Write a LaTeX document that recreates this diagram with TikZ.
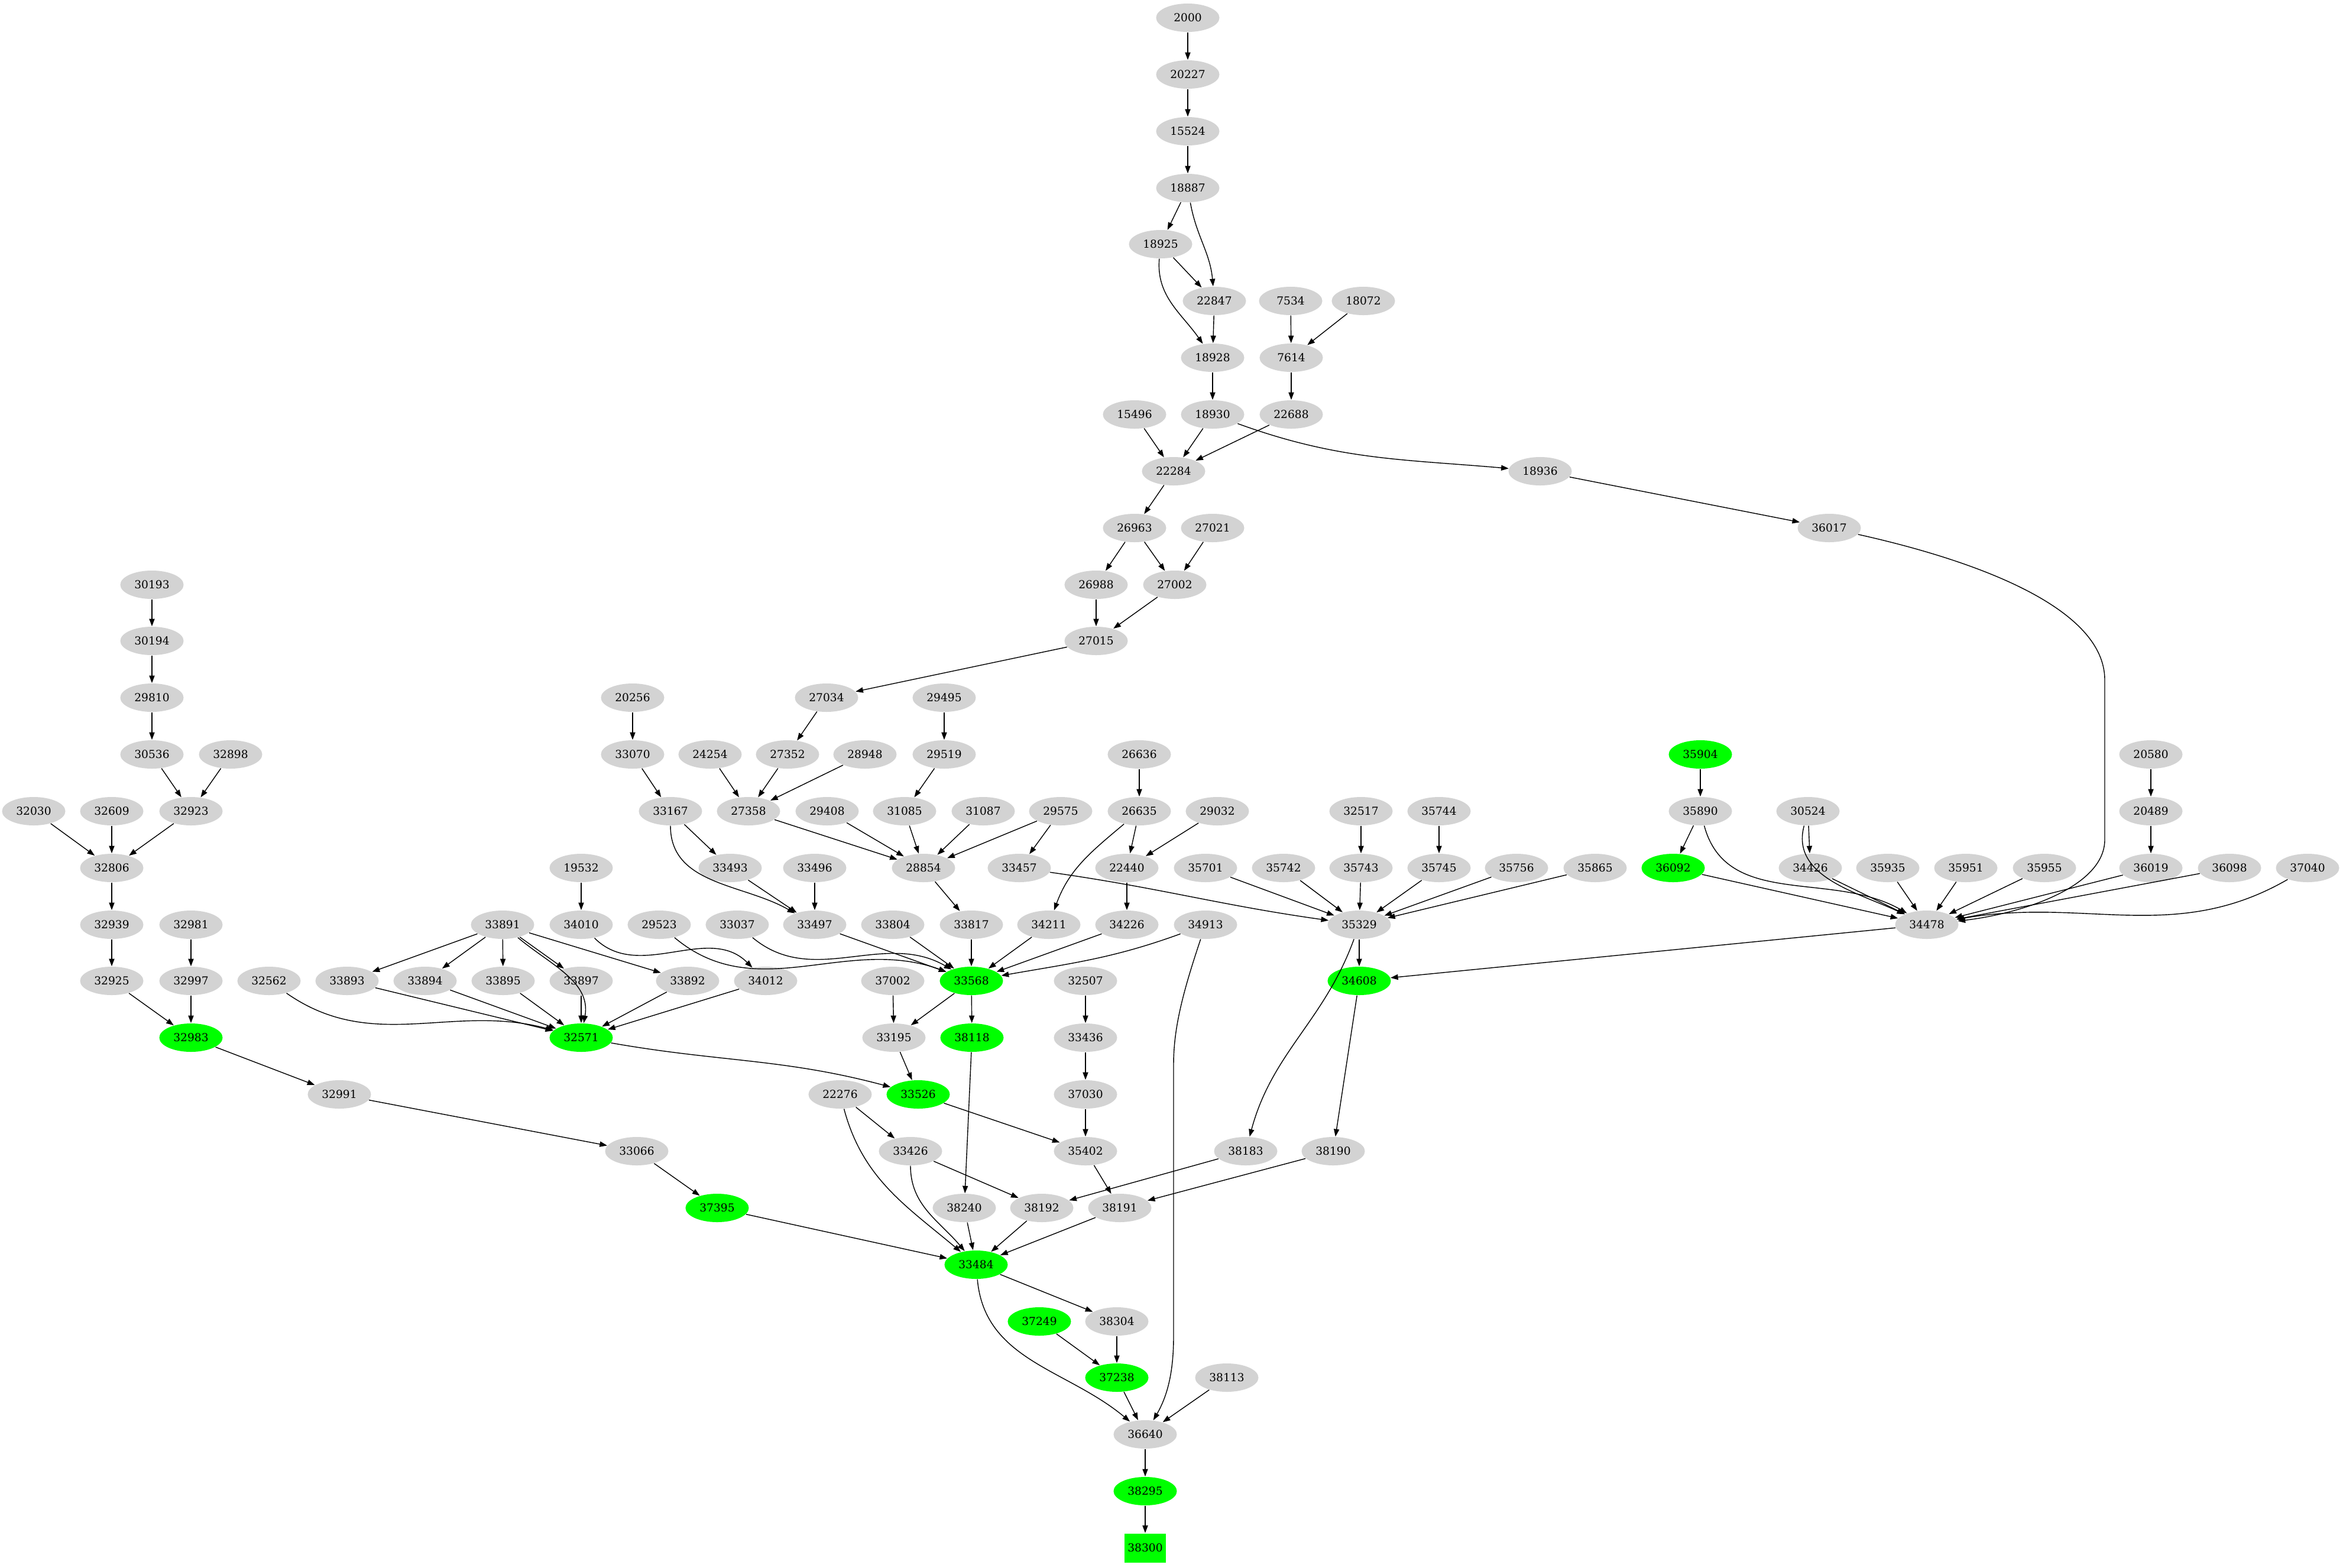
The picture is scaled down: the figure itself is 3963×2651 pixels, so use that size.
\documentclass[tikz,border=0pt]{standalone}
\usepackage{fontspec}
\setmainfont{DejaVu Serif}
\usetikzlibrary{shapes.geometric,arrows.meta}
\definecolor{ng}{HTML}{D3D3D3}
\definecolor{gg}{HTML}{00FF00}
\begin{document}
\begin{tikzpicture}[x=0.01cm,y=-0.01cm,
  g/.style={ellipse,fill=ng,minimum width=1.07cm,minimum height=0.48cm,inner sep=0pt,font=\fontsize{5.3}{6}\selectfont},
  gr/.style={g,fill=gg},
  bx/.style={rectangle,fill=gg,minimum width=0.7cm,minimum height=0.49cm,inner sep=0pt,font=\fontsize{5.3}{6}\selectfont},
  e/.style={-{Triangle[length=3.6pt,width=2.6pt]},line width=0.4pt}]
\useasboundingbox (0,0) rectangle (3963,2651);
% row 0-13
\node[g] (n2000) at (2009,30) {2000};
\node[g] (n20227) at (2009,126) {20227};
\node[g] (n15524) at (2009,222) {15524};
\node[g] (n18887) at (2009,318) {18887};
\node[g] (n18925) at (1963,413) {18925};
\node[g] (n22847) at (2054,509) {22847};
\node[g] (n7534) at (2183,509) {7534};
\node[g] (n18072) at (2306,509) {18072};
\node[g] (n18928) at (2051,605) {18928};
\node[g] (n7614) at (2184,605) {7614};
\node[g] (n15496) at (1919,701) {15496};
\node[g] (n18930) at (2051,701) {18930};
\node[g] (n22688) at (2184,701) {22688};
\node[g] (n22284) at (1985,797) {22284};
\node[g] (n18936) at (2605,797) {18936};
\node[g] (n26963) at (1919,893) {26963};
\node[g] (n27021) at (2051,893) {27021};
\node[g] (n36017) at (3094,893) {36017};
\node[g] (n30193) at (257,989) {30193};
\node[g] (n26988) at (1854,989) {26988};
\node[g] (n27002) at (1987,989) {27002};
\node[g] (n30194) at (257,1084) {30194};
\node[g] (n27015) at (1854,1084) {27015};
\node[g] (n29810) at (257,1180) {29810};
\node[g] (n20256) at (1070,1180) {20256};
\node[g] (n27034) at (1398,1180) {27034};
\node[g] (n29495) at (1597,1180) {29495};
\node[g] (n30536) at (257,1276) {30536};
\node[g] (n32898) at (390,1276) {32898};
\node[g] (n33070) at (1070,1276) {33070};
\node[g] (n24254) at (1201,1276) {24254};
\node[g] (n27352) at (1332,1276) {27352};
\node[g] (n28948) at (1463,1276) {28948};
\node[g] (n29519) at (1597,1276) {29519};
\node[g] (n26636) at (1927,1276) {26636};
\node[gr] (n35904) at (2876,1276) {35904};
\node[g] (n20580) at (3638,1276) {20580};
% row 14
\node[g] (n32030) at (57,1372) {32030};
\node[g] (n32609) at (189,1372) {32609};
\node[g] (n32923) at (323,1372) {32923};
\node[g] (n33167) at (1134,1372) {33167};
\node[g] (n27358) at (1266,1372) {27358};
\node[g] (n29408) at (1399,1372) {29408};
\node[g] (n31085) at (1530,1372) {31085};
\node[g] (n31087) at (1663,1372) {31087};
\node[g] (n29575) at (1794,1372) {29575};
\node[g] (n26635) at (1927,1372) {26635};
\node[g] (n29032) at (2059,1372) {29032};
\node[g] (n32517) at (2302,1372) {32517};
\node[g] (n35744) at (2434,1372) {35744};
\node[g] (n35890) at (2876,1372) {35890};
\node[g] (n30524) at (3058,1372) {30524};
\node[g] (n20489) at (3638,1372) {20489};
% row 15
\node[g] (n32806) at (189,1468) {32806};
\node[g] (n19532) at (983,1468) {19532};
\node[g] (n33493) at (1235,1468) {33493};
\node[g] (n33496) at (1378,1468) {33496};
\node[g] (n28854) at (1562,1468) {28854};
\node[g] (n33457) at (1724,1468) {33457};
\node[g] (n22440) at (1906,1468) {22440};
\node[g] (n35701) at (2039,1468) {35701};
\node[g] (n35742) at (2171,1468) {35742};
\node[g] (n35743) at (2302,1468) {35743};
\node[g] (n35745) at (2434,1468) {35745};
\node[g] (n35756) at (2565,1468) {35756};
\node[g] (n35865) at (2698,1468) {35865};
\node[gr] (n36092) at (2830,1468) {36092};
\node[g] (n34426) at (3062,1468) {34426};
\node[g] (n35935) at (3193,1468) {35935};
\node[g] (n35951) at (3325,1468) {35951};
\node[g] (n35955) at (3458,1468) {35955};
\node[g] (n36019) at (3638,1468) {36019};
\node[g] (n36098) at (3771,1468) {36098};
\node[g] (n37040) at (3903,1468) {37040};
% row 16
\node[g] (n32939) at (189,1564) {32939};
\node[g] (n32981) at (323,1564) {32981};
\node[g] (n33891) at (850,1564) {33891};
\node[g] (n34010) at (983,1564) {34010};
\node[g] (n29523) at (1115,1564) {29523};
\node[g] (n33037) at (1247,1564) {33037};
\node[g] (n33497) at (1378,1564) {33497};
\node[g] (n33804) at (1510,1564) {33804};
\node[g] (n33817) at (1643,1564) {33817};
\node[g] (n34211) at (1774,1564) {34211};
\node[g] (n34226) at (1906,1564) {34226};
\node[g] (n34913) at (2039,1564) {34913};
\node[g] (n35329) at (2299,1564) {35329};
\node[g] (n34478) at (3259,1564) {34478};
% row 17
\node[g] (n32925) at (189,1659) {32925};
\node[g] (n32997) at (323,1659) {32997};
\node[g] (n32562) at (455,1659) {32562};
\node[g] (n33893) at (587,1659) {33893};
\node[g] (n33894) at (719,1659) {33894};
\node[g] (n33895) at (851,1659) {33895};
\node[g] (n33897) at (983,1659) {33897};
\node[g] (n33892) at (1163,1659) {33892};
\node[g] (n34012) at (1295,1659) {34012};
\node[g] (n37002) at (1510,1659) {37002};
\node[gr] (n33568) at (1643,1659) {33568};
\node[g] (n32507) at (1836,1659) {32507};
\node[gr] (n34608) at (2299,1659) {34608};
% row 18
\node[gr] (n32983) at (323,1755) {32983};
\node[gr] (n32571) at (983,1755) {32571};
\node[g] (n33195) at (1512,1755) {33195};
\node[gr] (n38118) at (1644,1755) {38118};
\node[g] (n33436) at (1836,1755) {33436};
% row 19
\node[g] (n32991) at (574,1851) {32991};
\node[g] (n22276) at (1421,1851) {22276};
\node[gr] (n33526) at (1553,1851) {33526};
\node[g] (n37030) at (1836,1851) {37030};
% row 20
\node[g] (n33066) at (1077,1947) {33066};
\node[g] (n33426) at (1540,1947) {33426};
\node[g] (n35402) at (1836,1947) {35402};
\node[g] (n38183) at (2107,1947) {38183};
\node[g] (n38190) at (2255,1947) {38190};
% row 21
\node[gr] (n37395) at (1213,2043) {37395};
\node[g] (n38240) at (1631,2043) {38240};
\node[g] (n38192) at (1762,2043) {38192};
\node[g] (n38191) at (1894,2043) {38191};
% rows 22-27
\node[gr] (n33484) at (1651,2139) {33484};
\node[gr] (n37249) at (1758,2235) {37249};
\node[g] (n38304) at (1889,2235) {38304};
\node[gr] (n37238) at (1889,2330) {37238};
\node[g] (n38113) at (2075,2330) {38113};
\node[g] (n36640) at (1937,2426) {36640};
\node[gr] (n38295) at (1937,2522) {38295};
\node[bx] (n38300) at (1937,2618) {38300};
% edges top
\draw[e] (n2000) -- (n20227);
\draw[e] (n20227) -- (n15524);
\draw[e] (n15524) -- (n18887);
\draw[e] (n18887) -- (n18925);
\draw[e] (n18887) to[out=-80,in=95] (n22847);
\draw[e] (n18925) -- (n22847);
\draw[e] (n18925) to[out=-95,in=125] (n18928);
\draw[e] (n22847) -- (n18928);
\draw[e] (n7534) -- (n7614);
\draw[e] (n18072) -- (n7614);
\draw[e] (n18928) -- (n18930);
\draw[e] (n7614) -- (n22688);
\draw[e] (n15496) -- (n22284);
\draw[e] (n18930) -- (n22284);
\draw[e] (n22688) -- (n22284);
\draw[e] (n18930) to[out=-20,in=175] (n18936);
\draw[e] (n22284) -- (n26963);
\draw[e] (n18936) -- (n36017);
\draw[e] (n26963) -- (n26988);
\draw[e] (n26963) -- (n27002);
\draw[e] (n27021) -- (n27002);
\draw[e] (n26988) -- (n27015);
\draw[e] (n27002) -- (n27015);
\draw[e] (n27015) -- (n27034);
\draw[e] (n36017) .. controls (3350,950) and (3560,1030) .. (3560,1150) -- (3560,1420) .. controls (3560,1500) and (3420,1545) .. (n34478);
% left
\draw[e] (n30193) -- (n30194);
\draw[e] (n30194) -- (n29810);
\draw[e] (n29810) -- (n30536);
\draw[e] (n30536) -- (n32923);
\draw[e] (n32898) -- (n32923);
\draw[e] (n32030) -- (n32806);
\draw[e] (n32609) -- (n32806);
\draw[e] (n32923) -- (n32806);
\draw[e] (n32806) -- (n32939);
\draw[e] (n32939) -- (n32925);
\draw[e] (n32925) -- (n32983);
\draw[e] (n32981) -- (n32997);
\draw[e] (n32997) -- (n32983);
\draw[e] (n32983) -- (n32991);
\draw[e] (n32991) -- (n33066);
\draw[e] (n33066) -- (n37395);
\draw[e] (n37395) -- (n33484);
% middle
\draw[e] (n20256) -- (n33070);
\draw[e] (n33070) -- (n33167);
\draw[e] (n33167) -- (n33493);
\draw[e] (n33167) to[out=-90,in=150] (n33497);
\draw[e] (n24254) -- (n27358);
\draw[e] (n27034) -- (n27352);
\draw[e] (n27352) -- (n27358);
\draw[e] (n28948) -- (n27358);
\draw[e] (n29495) -- (n29519);
\draw[e] (n29519) -- (n31085);
\draw[e] (n31085) -- (n28854);
\draw[e] (n27358) -- (n28854);
\draw[e] (n29408) -- (n28854);
\draw[e] (n31087) -- (n28854);
\draw[e] (n29575) -- (n28854);
\draw[e] (n29575) -- (n33457);
\draw[e] (n28854) -- (n33817);
\draw[e] (n26636) -- (n26635);
\draw[e] (n26635) -- (n22440);
\draw[e] (n26635) to[out=-140,in=70] (n34211);
\draw[e] (n29032) -- (n22440);
\draw[e] (n22440) -- (n34226);
\draw[e] (n19532) -- (n34010);
\draw[e] (n34010) to[out=-45,in=135] (n34012);
\draw[e] (n33493) -- (n33497);
\draw[e] (n33496) -- (n33497);
\draw[e] (n33891) -- (n33893);
\draw[e] (n33891) -- (n33894);
\draw[e] (n33891) -- (n33895);
\draw[e] (n33891) -- (n33897);
\draw[e] (n33891) -- (n33892);
\draw[e] (n33891) to[out=-40,in=80] (n32571);
\draw[e] (n32562) to[out=-35,in=165] (n32571);
\draw[e] (n33893) -- (n32571);
\draw[e] (n33894) -- (n32571);
\draw[e] (n33895) -- (n32571);
\draw[e] (n33897) -- (n32571);
\draw[e] (n33892) -- (n32571);
\draw[e] (n34012) -- (n32571);
\draw[e] (n29523) to[out=-40,in=160] (n33568);
\draw[e] (n33037) to[out=-40,in=150] (n33568);
\draw[e] (n33497) -- (n33568);
\draw[e] (n33804) -- (n33568);
\draw[e] (n33817) -- (n33568);
\draw[e] (n34211) -- (n33568);
\draw[e] (n34226) -- (n33568);
\draw[e] (n34913) to[out=-160,in=10] (n33568);
\draw[e] (n33568) -- (n33195);
\draw[e] (n33568) -- (n38118);
\draw[e] (n37002) -- (n33195);
\draw[e] (n33195) -- (n33526);
\draw[e] (n32571) to[out=-10,in=165] (n33526);
\draw[e] (n33526) -- (n35402);
\draw[e] (n32507) -- (n33436);
\draw[e] (n33436) -- (n37030);
\draw[e] (n37030) -- (n35402);
\draw[e] (n35402) -- (n38191);
\draw[e] (n38118) -- (n38240);
\draw[e] (n38240) -- (n33484);
\draw[e] (n22276) -- (n33426);
\draw[e] (n22276) to[out=-75,in=140] (n33484);
\draw[e] (n33426) to[out=-90,in=130] (n33484);
\draw[e] (n33426) -- (n38192);
\draw[e] (n38183) -- (n38192);
\draw[e] (n38190) -- (n38191);
\draw[e] (n38192) -- (n33484);
\draw[e] (n38191) -- (n33484);
\draw[e] (n33484) -- (n38304);
\draw[e] (n33484) to[out=-85,in=140] (n36640);
\draw[e] (n37249) -- (n37238);
\draw[e] (n38304) -- (n37238);
\draw[e] (n37238) -- (n36640);
\draw[e] (n38113) -- (n36640);
\draw[e] (n34913) .. controls (2000,1680) and (1985,1740) .. (1985,1800) -- (1985,2260) .. controls (1985,2320) and (1975,2360) .. (n36640);
\draw[e] (n36640) -- (n38295);
\draw[e] (n38295) -- (n38300);
% right
\draw[e] (n33457) to[out=-8,in=172] (n35329);
\draw[e] (n35701) -- (n35329);
\draw[e] (n35742) -- (n35329);
\draw[e] (n35743) -- (n35329);
\draw[e] (n35745) -- (n35329);
\draw[e] (n35756) -- (n35329);
\draw[e] (n35865) -- (n35329);
\draw[e] (n32517) -- (n35743);
\draw[e] (n35744) -- (n35745);
\draw[e] (n35329) -- (n34608);
\draw[e] (n35329) to[out=-110,in=75] (n38183);
\draw[e] (n34608) -- (n38190);
\draw[e] (n34478) -- (n34608);
\draw[e] (n35904) -- (n35890);
\draw[e] (n35890) -- (n36092);
\draw[e] (n35890) to[out=-75,in=150] (n34478);
\draw[e] (n30524) to[out=-105,in=155] (n34478);
\draw[e] (n30524) -- (n34426);
\draw[e] (n36092) -- (n34478);
\draw[e] (n34426) -- (n34478);
\draw[e] (n35935) -- (n34478);
\draw[e] (n35951) -- (n34478);
\draw[e] (n35955) -- (n34478);
\draw[e] (n36019) -- (n34478);
\draw[e] (n36098) -- (n34478);
\draw[e] (n37040) to[out=-150,in=10] (n34478);
\draw[e] (n20580) -- (n20489);
\draw[e] (n20489) -- (n36019);
\end{tikzpicture}
\end{document}
